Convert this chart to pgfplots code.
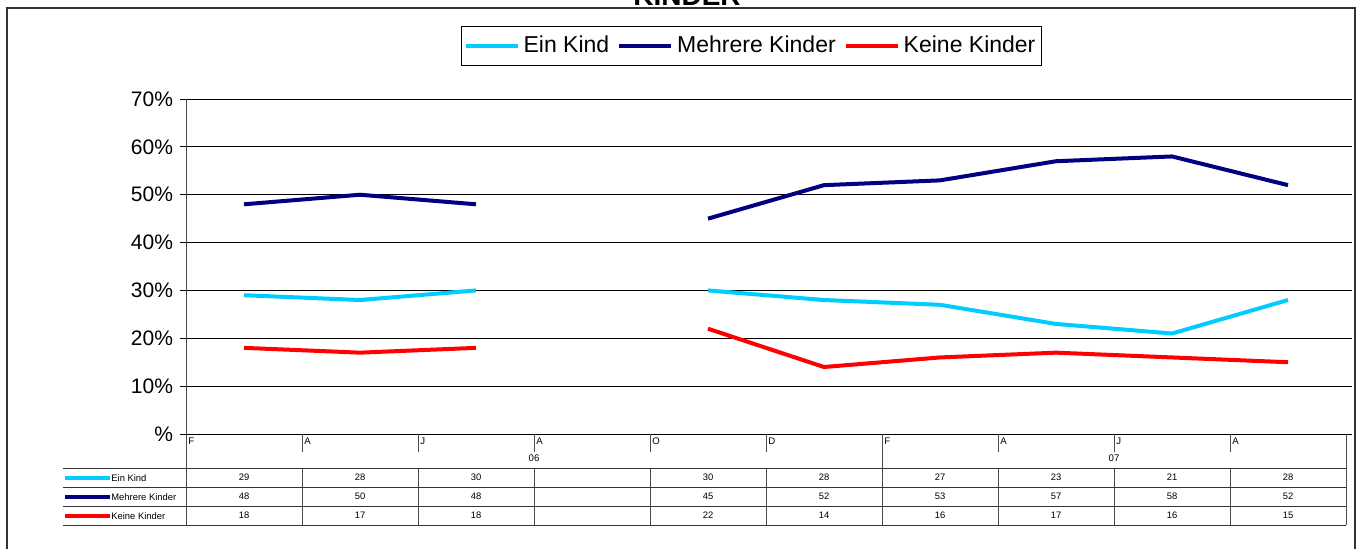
\documentclass[border=0pt]{standalone}
\usepackage{pgfplots}
\pgfplotsset{compat=1.18}
\usepackage{pgfplotstable}
\usepackage{fontspec}
\setmainfont{Liberation Sans}

\definecolor{einkind}{HTML}{00CCFF}
\definecolor{mehrere}{HTML}{000080}
\definecolor{keine}{HTML}{FF0000}

% Werte in Prozent, Spalte 4 (A 06) ohne Daten
\pgfplotstableread{
x   ein  mehr keine
0.5 29   48   18
1.5 28   50   17
2.5 30   48   18
3.5 nan  nan  nan
4.5 30   45   22
5.5 28   52   14
6.5 27   53   16
7.5 23   57   17
8.5 21   58   16
9.5 28   52   15
}\kinder

\begin{document}
\begin{tikzpicture}
\begin{axis}[
    at={(0,0)}, anchor=south west,
    scale only axis, width=580pt, height=167.5pt,
    xmin=0, xmax=10, ymin=0, ymax=70,
    xtick=\empty,
    ytick={0,10,...,70},
    yticklabels={\%,10\%,20\%,30\%,40\%,50\%,60\%,70\%},
    yticklabel style={font=\fontsize{10.5}{12}\selectfont},
    ymajorgrids, grid style={black, line width=0.5pt},
    axis line style={draw=none},
    tick align=outside, major tick length=3pt,
    tick style={black, line width=0.5pt},
    unbounded coords=jump,
    clip=false,
    legend columns=3,
    legend style={at={(0.4875,1.158)}, anchor=center, draw=black,
        line width=0.5pt, font=\fontsize{11.5}{13}\selectfont,
        inner xsep=1pt, inner ysep=3pt,
        /tikz/every even column/.append style={column sep=2pt}},
    legend image code/.code={\draw[#1, line width=2pt] (0pt,0pt) -- (26pt,0pt);},
    every axis plot/.append style={line width=2pt, line join=round},
]
\addplot[einkind] table[x=x, y=ein] {\kinder};
\addlegendentry{Ein Kind}
\addplot[mehrere] table[x=x, y=mehr] {\kinder};
\addlegendentry{Mehrere Kinder}
\addplot[keine] table[x=x, y=keine] {\kinder};
\addlegendentry{Keine Kinder}
\end{axis}

% pixel grid of the reference: (186,434) is the axis origin
\begin{scope}[x=0.5pt,y=-0.5pt,shift={(-186,-434)}]
% outer frame and cut-off title
\draw[black!80, line width=1pt] (7,560) -- (7,8) -- (1355,8) -- (1355,560);
\node[font=\fontsize{14}{16}\selectfont\bfseries, anchor=base] at (687,5) {KINDER};

% axes
\draw[black!70, line width=0.5pt] (186,99) -- (186,525);
\draw[black, line width=0.5pt] (186,434) -- (1346,434);

% category axis ticks
\foreach \X in {302,418,534,650,766,998,1114,1230}
    \draw[black!70, line width=0.5pt] (\X,434) -- (\X,452);
\foreach \X in {882,1346}
    \draw[black!70, line width=0.5pt] (\X,434) -- (\X,468);
\foreach \m [count=\i from 0] in {F,A,J,A,O,D,F,A,J,A}
    \node[anchor=north west, inner sep=0pt, font=\fontsize{4.8}{5}\selectfont]
        at ({188+116*\i},437) {\m};
\node[font=\fontsize{4.8}{5}\selectfont] at (534,458) {06};
\node[font=\fontsize{4.8}{5}\selectfont] at (1114,458) {07};

% data table
\foreach \i in {0,...,10}
    \draw[black!70, line width=0.5pt] ({186+116*\i},468) -- ({186+116*\i},525);
\foreach \Y in {468,487,506,525}
    \draw[black!80, line width=0.5pt] (63,\Y) -- (1346,\Y);

\draw[einkind, line width=2pt] (65,478) -- (110,478);
\draw[mehrere, line width=2pt] (65,497) -- (110,497);
\draw[keine, line width=2pt] (65,516) -- (110,516);
\begin{scope}[every node/.style={font=\fontsize{4.7}{5}\selectfont, inner sep=0pt}]
\node[anchor=west] at (111,478) {Ein Kind};
\node[anchor=west] at (111,497) {Mehrere Kinder};
\node[anchor=west] at (111,516) {Keine Kinder};
\foreach \v [count=\i from 0] in {29,28,30,,30,28,27,23,21,28}
    \node at ({244+116*\i},477.5) {\v};
\foreach \v [count=\i from 0] in {48,50,48,,45,52,53,57,58,52}
    \node at ({244+116*\i},496.5) {\v};
\foreach \v [count=\i from 0] in {18,17,18,,22,14,16,17,16,15}
    \node at ({244+116*\i},515.5) {\v};
\end{scope}

\pgfresetboundingbox
\path[use as bounding box] (0,0) rectangle (1359,548);
\end{scope}
\end{tikzpicture}
\end{document}
